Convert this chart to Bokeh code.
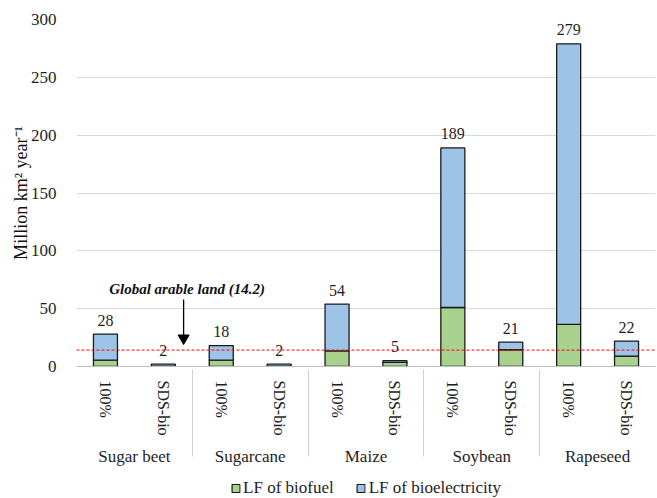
from bokeh.plotting import figure
from bokeh.layouts import column
from bokeh.models import (ColumnDataSource, FactorRange, Range1d, Legend, LegendItem,
                          Span, SingleIntervalTicker)
from bokeh.core.properties import value
from bokeh.embed import file_html
from bokeh.resources import INLINE

crops = ["Sugar beet", "Sugarcane", "Maize", "Soybean", "Rapeseed"]
scenarios = ["100%", "SDS-bio"]
biofuel = [5.5, 0.4, 5.5, 0.4, 13.5, 3.5, 51, 14.5, 36.5, 9]
bioelectricity = [22.5, 1.6, 12.5, 1.6, 40.5, 1.5, 138, 6.5, 242.5, 13]
totals = [28, 2, 18, 2, 54, 5, 189, 21, 279, 22]
arable_land = 14.2
arable_text = "Global arable land (14.2)"
series_names = ["LF of biofuel", "LF of bioelectricity"]
colors = ["#a9d18e", "#9dc3e6"]

FONT = "'Liberation Serif', 'Times New Roman', serif"
INK = "#1e1e1e"
factors = [(c, s) for c in crops for s in scenarios]

src = ColumnDataSource(dict(x=factors, biofuel=biofuel, bioelectricity=bioelectricity,
                            total=totals, lbl=[str(t) for t in totals]))

p = figure(width=656, height=474, output_backend="svg", toolbar_location=None,
           x_range=FactorRange(*factors, range_padding=0, group_padding=0, factor_padding=0),
           y_range=Range1d(0, 300), min_border_top=19, min_border_right=1, min_border_left=76,
           min_border_bottom=108)
p.outline_line_color = None

rs = p.vbar_stack(["biofuel", "bioelectricity"], x="x", width=0.415, source=src,
                  color=colors, line_color="#1a1a1a", line_width=1.3)

p.text(x="x", y="total", text="lbl", source=src, text_align="center",
       text_baseline="alphabetic", y_offset=-14, text_font=value(FONT),
       text_font_size="16px", text_color=INK)

p.add_layout(Span(location=arable_land, dimension="width", line_color="red",
                  line_dash="3 2", line_width=1))

ann = ColumnDataSource(dict(tx=[("Sugar beet", "SDS-bio", 0.41)], ty=[67],
                            ax=[("Sugar beet", "SDS-bio", 0.35)], ay0=[58], ay1=[25],
                            tipy=[24.5], t=[arable_text]))
p.text(x="tx", y="ty", text="t", source=ann, text_align="center", text_baseline="middle",
       text_font=value(FONT), text_font_size="15px", text_font_style="bold italic",
       text_color="#111111")
p.segment(x0="ax", y0="ay0", x1="ax", y1="ay1", source=ann, line_color="black", line_width=1.3)
p.scatter(x="ax", y="tipy", source=ann, marker="inverted_triangle", size=11,
          fill_color="black", line_color="black")

p.yaxis.ticker = SingleIntervalTicker(interval=50)
p.yaxis.axis_line_color = None
p.yaxis.major_tick_line_color = None
p.yaxis.minor_tick_line_color = None
p.yaxis.major_label_text_font = FONT
p.yaxis.major_label_text_font_size = "17px"
p.yaxis.major_label_text_color = INK
p.yaxis.major_label_standoff = 14
p.yaxis.axis_label = "Million km² year⁻¹"
p.yaxis.axis_label_text_font = FONT
p.yaxis.axis_label_text_font_size = "18px"
p.yaxis.axis_label_text_font_style = "normal"
p.yaxis.axis_label_text_color = "#111111"
p.yaxis.axis_label_standoff = -3

p.ygrid.grid_line_color = "#d9d9d9"
p.xgrid.grid_line_color = None

xa = p.xaxis[0]
xa.axis_line_color = "#bfbfbf"
xa.major_tick_line_color = None
xa.minor_tick_line_color = None
xa.major_label_orientation = "vertical"
xa.major_label_text_font = FONT
xa.major_label_text_font_size = "16px"
xa.major_label_text_color = INK
xa.group_text_font = FONT
xa.group_text_font_size = "17px"
xa.group_text_font_style = "normal"
xa.group_text_color = INK
xa.group_label_orientation = "horizontal"
xa.separator_line_color = "#d0d0d0"
xa.separator_line_width = 1
xa.major_label_standoff = 8

# legend in a separate strip below (dummy bars lie outside the visible range)
lg = figure(width=656, height=24, output_backend="svg", toolbar_location=None,
            x_range=Range1d(0, 1), y_range=Range1d(0, 1), min_border=0)
lg.axis.visible = False
lg.grid.visible = False
lg.outline_line_color = None
lrs = [lg.vbar(x=[-5], top=[-5], width=0.1, fill_color=c, line_color="#1a1a1a", line_width=1.2)
       for c in colors]
legend = Legend(items=[LegendItem(label=n, renderers=[r]) for n, r in zip(series_names, lrs)],
                orientation="horizontal", location="bottom_center", border_line_color=None,
                background_fill_alpha=0,
                label_text_font=FONT, label_text_font_size="17px", label_text_color=INK,
                glyph_width=10, glyph_height=10, label_height=16, label_standoff=3,
                spacing=22, padding=0, margin=0)
lg.add_layout(legend)

open("out.html", "w").write(file_html(column(p, lg), INLINE))
